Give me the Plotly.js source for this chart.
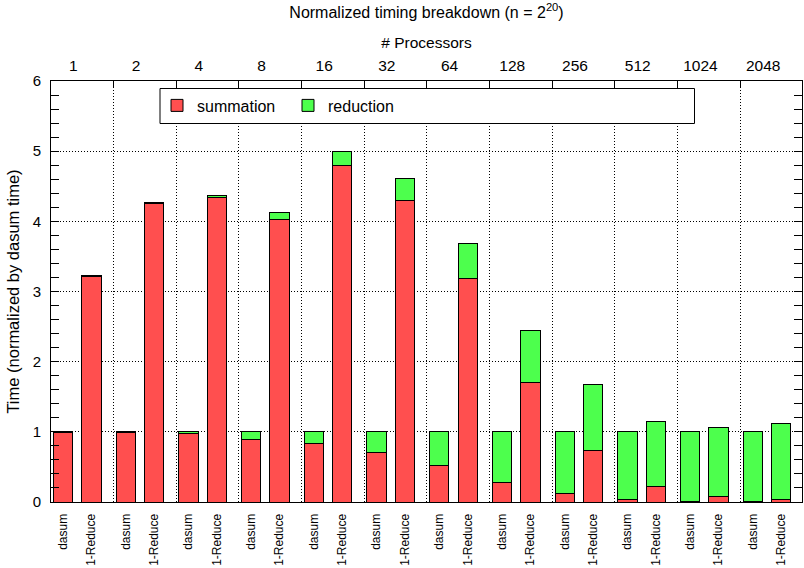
<!DOCTYPE html>
<html><head><meta charset="utf-8">
<script src="https://cdn.plot.ly/plotly-3.0.1.min.js"></script>
<style>html,body{margin:0;padding:0;background:#fff}#chart{width:804px;height:568px}</style>
</head><body><div id="chart"></div>
<script>
// ---- data ----
const processors = ['1','2','4','8','16','32','64','128','256','512','1024','2048'];
const variants = ['dasum','1-Reduce'];
const dasumSummation  = [0.99, 0.99, 0.975, 0.895, 0.834, 0.705, 0.52, 0.277, 0.124, 0.034, 0.014, 0.005];
const dasumReduction  = [0.01, 0.01, 0.025, 0.105, 0.166, 0.295, 0.48, 0.723, 0.876, 0.966, 0.986, 0.995];
const reduceSummation = [3.22, 4.26, 4.345, 4.02, 4.80, 4.29, 3.18, 1.70, 0.74, 0.22, 0.08, 0.035];
const reduceReduction = [0.015, 0.015, 0.03, 0.11, 0.20, 0.315, 0.51, 0.74, 0.935, 0.93, 0.98, 1.08];

// ---- layout helpers ----
const GROUP_STEP = 2.208, LABEL_OFF = 0.363, GRID_OFF = 1.771;
const XRANGE = [-0.423, 26.02];
const xs = [], xlabels = [], sumY = [], redY = [];
processors.forEach((p, g) => {
  xs.push(g*GROUP_STEP, g*GROUP_STEP + 1);
  xlabels.push(variants[0], variants[1]);
  sumY.push(dasumSummation[g], reduceSummation[g]);
  redY.push(dasumReduction[g], reduceReduction[g]);
});
const gridPos = processors.slice(0, -1).map((p, g) => g*GROUP_STEP + GRID_OFF);
const labelPos = processors.map((p, g) => g*GROUP_STEP + LABEL_OFF);

const FONT = 'Liberation Sans, Arial, Helvetica, sans-serif';
const L = 51, R = 2, T = 81, B = 66, W = 804, H = 568;
const pw = W - L - R, ph = H - T - B;
const px2x = v => (v - L) / pw, py2y = v => (H - B - v) / ph;

const traces = [
  {type:'bar', name:'summation', x: xs, y: sumY, width: 0.68,
   marker:{color:'#ff4f4f', line:{color:'#000', width:1}}},
  {type:'bar', name:'reduction', x: xs, y: redY, width: 0.68,
   marker:{color:'#4dff4d', line:{color:'#000', width:1}}}
];

const dotted = '1px,2px';
const layout = {
  width: W, height: H,
  margin: {l: L, r: R, t: T, b: B, pad: 0},
  paper_bgcolor: '#fff', plot_bgcolor: '#fff',
  font: {family: FONT, size: 15, color: '#000'},
  barmode: 'stack', bargap: 0,
  title: {text: 'Normalized timing breakdown (n = 2<sup>20</sup>)', font: {size: 16},
          xref: 'paper', x: 0.5, xanchor: 'center', yref: 'container', y: 1 - 12/H, yanchor: 'middle'},
  xaxis: {range: XRANGE, tickmode: 'array', tickvals: xs, ticktext: xlabels, tickangle: -90,
          tickfont: {size: 12}, ticks: '', showgrid: false, zeroline: false,
          showline: true, linecolor: '#000', linewidth: 1, mirror: true, ticklabelstandoff: 6},
  xaxis2: {overlaying: 'x', anchor: 'y', side: 'top', range: XRANGE, tickmode: 'array',
           tickvals: gridPos, showticklabels: false, ticks: 'inside', ticklen: 7, tickcolor: '#000',
           showgrid: true, gridcolor: '#000', griddash: dotted, gridwidth: 1, zeroline: false, showline: false},
  xaxis3: {overlaying: 'x', anchor: 'y', side: 'top', range: XRANGE, tickmode: 'array',
           tickvals: labelPos, ticktext: processors, ticks: '', showgrid: false, zeroline: false,
           showline: false, tickfont: {size: 15.5}, ticklabelstandoff: 6,
           title: {text: '# Processors', font: {size: 15.5}, standoff: 4}},
  yaxis: {range: [0, 6], tickmode: 'linear', tick0: 0, dtick: 1, ticks: 'inside', ticklen: 8,
          tickcolor: '#000', showline: true, linecolor: '#000', linewidth: 1, mirror: 'allticks',
          showgrid: true, gridcolor: '#000', griddash: dotted, gridwidth: 1, zeroline: false,
          tickfont: {size: 15}, ticklabelstandoff: 6,
          minor: {dtick: 0.2, ticks: 'inside', ticklen: 4, tickcolor: '#000', showgrid: false},
          title: {text: 'Time (normalized by dasum time)', font: {size: 16.5}, standoff: 8}},
  showlegend: true,
  legend: {orientation: 'h', x: px2x(157), xanchor: 'left', y: py2y(105.5), yanchor: 'middle',
           bgcolor: 'rgba(0,0,0,0)', borderwidth: 0, font: {size: 16}, entrywidth: 86, itemwidth: 30,
           traceorder: 'normal'},
  shapes: [{type: 'rect', xref: 'paper', yref: 'paper', layer: 'above',
            x0: px2x(160), x1: px2x(694.5), y0: py2y(123.5), y1: py2y(88.5),
            line: {color: '#000', width: 1}, fillcolor: '#fff'}]
};
traces.push({type:'scatter', x: [], y: [], xaxis: 'x2', showlegend: false, hoverinfo: 'skip'});
traces.push({type:'scatter', x: [], y: [], xaxis: 'x3', showlegend: false, hoverinfo: 'skip'});
Plotly.newPlot('chart', traces, layout, {staticPlot: true});
</script></body></html>
